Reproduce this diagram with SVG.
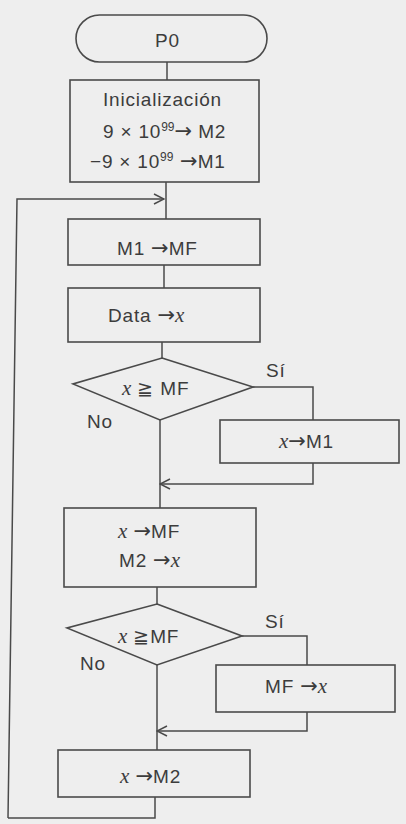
<svg xmlns="http://www.w3.org/2000/svg" width="406" height="824" viewBox="0 0 406 824">
<style>
.bg{fill:#eeeeee}
.sh{fill:none;stroke:#4a4a4a;stroke-width:1.6}
.ln{fill:none;stroke:#4a4a4a;stroke-width:1.5}
text{font-family:"Liberation Sans",Arial,sans-serif;font-size:19px;letter-spacing:0.8px;fill:#3c3c3c}
.v{font-family:"Liberation Serif","Times New Roman",serif;font-style:italic;font-size:21px;letter-spacing:0}
.a{font-family:"DejaVu Sans",sans-serif;font-size:21px;letter-spacing:0}
.sup{font-size:12px;letter-spacing:0}
</style>
<defs>
<marker id="arr" viewBox="0 0 12 12" refX="11" refY="6" markerWidth="12" markerHeight="12" markerUnits="userSpaceOnUse" orient="auto">
<path d="M1,1 L11,6 L1,11" fill="none" stroke="#4a4a4a" stroke-width="1.5"/>
</marker>
</defs>
<rect class="bg" x="0" y="0" width="406" height="824"/>

<g id="connectors">
<path class="ln" d="M167,62 V80"/>
<path class="ln" d="M166,182 V219"/>
<path class="ln" d="M8,818 L17,199 H164" marker-end="url(#arr)"/>
<path class="ln" d="M164,265 V288"/>
<path class="ln" d="M162,342 V358"/>
<path class="ln" d="M253,387 H313 V420"/>
<path class="ln" d="M313,463 V484 H160" marker-end="url(#arr)"/>
<path class="ln" d="M160,420 V508"/>
<path class="ln" d="M157,587 V604"/>
<path class="ln" d="M242,636 H307 V665"/>
<path class="ln" d="M307,712 V731 H157" marker-end="url(#arr)"/>
<path class="ln" d="M157,665 V750"/>
<path class="ln" d="M155,797 V818 H8"/>
</g>

<g id="start">
<rect class="sh" x="76" y="15" width="191" height="47" rx="23.5"/>
<text x="155" y="47">P0</text>
</g>

<g id="init">
<rect class="sh" x="70" y="80" width="189" height="102"/>
<text x="103" y="106">Inicialización</text>
<text x="103" y="138">9 × 10<tspan class="sup" dy="-7">99</tspan><tspan class="a" dy="7">→</tspan> M2</text>
<text x="90" y="168">−9 × 10<tspan class="sup" dy="-7">99</tspan><tspan class="a" dy="7"> →</tspan>M1</text>
</g>

<g id="m1mf">
<rect class="sh" x="68" y="219" width="192" height="46"/>
<text x="117" y="255">M1 <tspan class="a">→</tspan>MF</text>
</g>

<g id="data">
<rect class="sh" x="68" y="288" width="192" height="54"/>
<text x="108" y="322">Data  <tspan class="a">→</tspan><tspan class="v">x</tspan></text>
</g>

<g id="dec1">
<polygon class="sh" points="162,358 253,387 160,420 73,384"/>
<text x="122" y="395"><tspan class="v">x</tspan> ≧  MF</text>
<text x="266" y="377">Sí</text>
<text x="87" y="428">No</text>
</g>

<g id="xm1">
<rect class="sh" x="220" y="420" width="179" height="43"/>
<text x="279" y="448"><tspan class="v">x</tspan><tspan class="a">→</tspan>M1</text>
</g>

<g id="xmf">
<rect class="sh" x="64" y="508" width="192" height="79"/>
<text x="118" y="538"><tspan class="v">x</tspan> <tspan class="a">→</tspan>MF</text>
<text x="119" y="567">M2 <tspan class="a">→</tspan><tspan class="v">x</tspan></text>
</g>

<g id="dec2">
<polygon class="sh" points="157,604 242,636 157,665 67,628"/>
<text x="118" y="643"><tspan class="v">x</tspan> ≧MF</text>
<text x="265" y="628">Sí</text>
<text x="80" y="670">No</text>
</g>

<g id="mfx">
<rect class="sh" x="216" y="665" width="179" height="47"/>
<text x="265" y="693">MF <tspan class="a">→</tspan><tspan class="v">x</tspan></text>
</g>

<g id="xm2">
<rect class="sh" x="58" y="750" width="192" height="47"/>
<text x="120" y="783"><tspan class="v">x</tspan> <tspan class="a">→</tspan>M2</text>
</g>
</svg>
